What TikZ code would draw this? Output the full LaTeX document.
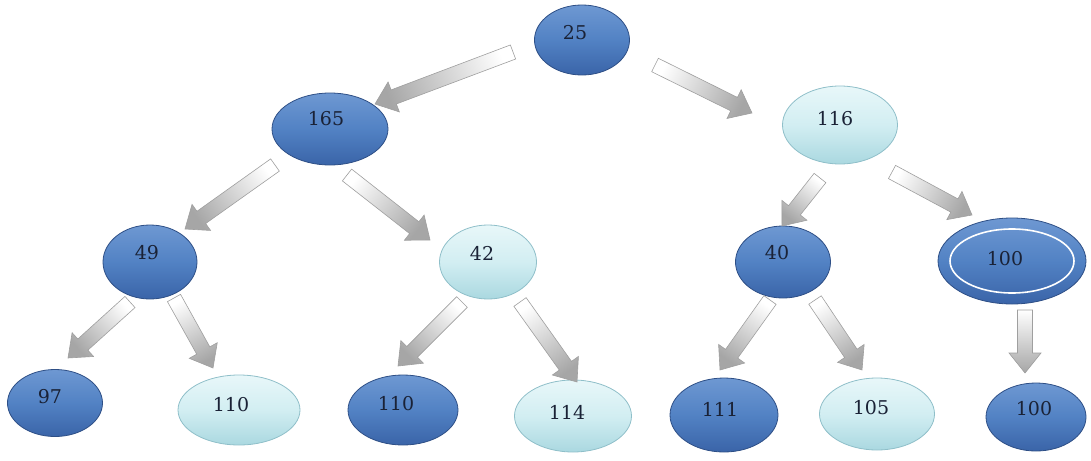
\documentclass[tikz,border=0pt]{standalone}
\usepackage{fontspec}
\setmainfont{DejaVu Serif}
\usetikzlibrary{shapes.geometric,calc}
\definecolor{dbtop}{HTML}{6E98D2}
\definecolor{dbmid}{HTML}{5282C4}
\definecolor{dbbot}{HTML}{3A64A8}
\definecolor{dbedge}{HTML}{2E4F86}
\definecolor{lbtop}{HTML}{E8F7F9}
\definecolor{lbmid}{HTML}{D2EEF2}
\definecolor{lbbot}{HTML}{AAD8E0}
\definecolor{lbedge}{HTML}{8FBFC9}
\definecolor{numcol}{HTML}{1A2236}
\tikzset{
  darknode/.style={ellipse, inner sep=0pt, draw=dbedge, line width=0.8pt,
    top color=dbtop, bottom color=dbbot, middle color=dbmid},
  lightnode/.style={ellipse, inner sep=0pt, draw=lbedge, line width=0.8pt,
    top color=lbtop, bottom color=lbbot, middle color=lbmid},
  numtext/.style={font=\fontsize{19}{19}\selectfont, text=numcol},
  arrowbody/.style={draw=gray!75, line width=0.6pt, top color=white, bottom color=gray!70},
}
\newcommand\blockarrow[2]{%
  \path let \p1=(#1), \p2=(#2), \n1={atan2(\y2-\y1,\x2-\x1)} in \pgfextra{\xdef\barang{\n1}};
  \coordinate (#1-#2-n) at ($(#2)!20pt!(#1)$);
  \draw[arrowbody, shading angle=\barang+90]
    ($(#1)!7.5pt!90:(#2)$) -- ($(#1-#2-n)!7.5pt!90:(#2)$) -- ($(#1-#2-n)!16pt!90:(#2)$)
    -- (#2) -- ($(#1-#2-n)!16pt!-90:(#2)$) -- ($(#1-#2-n)!7.5pt!-90:(#2)$)
    -- ($(#1)!7.5pt!-90:(#2)$) -- cycle;
}
\begin{document}
\begin{tikzpicture}[x=1pt,y=-1pt]
\useasboundingbox (0,0) rectangle (1091,460);
% nodes
\node[darknode, minimum width=95pt, minimum height=70pt] (n25) at (582,40) {};
\node[numtext] (t25) at (575,33) {25};
\node[darknode, minimum width=116pt, minimum height=72pt] (n165) at (330,129) {};
\node[numtext] (t165) at (326,119) {165};
\node[lightnode, minimum width=115pt, minimum height=78pt] (n116) at (840,125) {};
\node[numtext] (t116) at (835,119) {116};
\node[darknode, minimum width=94pt, minimum height=74pt] (n49) at (150,262) {};
\node[numtext] (t49) at (147,253) {49};
\node[lightnode, minimum width=97pt, minimum height=74pt] (n42) at (488,262) {};
\node[numtext] (t42) at (482,253) {42};
\node[darknode, minimum width=95pt, minimum height=72pt] (n40) at (783,262) {};
\node[numtext] (t40) at (777,253) {40};
\node[darknode, minimum width=148pt, minimum height=86pt] (n100a) at (1012,261) {};
\draw[white, line width=1.6pt] (n100a.center) ellipse [x radius=62pt, y radius=32pt];
\node[numtext] (t100a) at (1005,259) {100};
\node[darknode, minimum width=95pt, minimum height=67pt] (n97) at (55,403) {};
\node[numtext] (t97) at (50,397) {97};
\node[lightnode, minimum width=122pt, minimum height=70pt] (n110a) at (239,410) {};
\node[numtext] (t110a) at (231,405) {110};
\node[darknode, minimum width=110pt, minimum height=70pt] (n110b) at (403,410) {};
\node[numtext] (t110b) at (396,404) {110};
\node[lightnode, minimum width=117pt, minimum height=72pt] (n114) at (573,416) {};
\node[numtext] (t114) at (567,412) {114};
\node[darknode, minimum width=108pt, minimum height=74pt] (n111) at (724,415) {};
\node[numtext] (t111) at (720,409) {111};
\node[lightnode, minimum width=115pt, minimum height=72pt] (n105) at (877,414) {};
\node[numtext] (t105) at (871,408) {105};
\node[darknode, minimum width=100pt, minimum height=68pt] (n100b) at (1036,417) {};
\node[numtext] (t100b) at (1034,409) {100};
% arrow end points
\coordinate (a1t) at (513,52);  \coordinate (a1h) at (375,104);
\coordinate (a2t) at (655,65);  \coordinate (a2h) at (752,113);
\coordinate (a3t) at (275,165); \coordinate (a3h) at (185,229);
\coordinate (a4t) at (347,175); \coordinate (a4h) at (430,240);
\coordinate (a5t) at (820,178); \coordinate (a5h) at (782,226);
\coordinate (a6t) at (892,172); \coordinate (a6h) at (972,215);
\coordinate (a7t) at (130,302); \coordinate (a7h) at (68,358);
\coordinate (a8t) at (174,298); \coordinate (a8h) at (213,368);
\coordinate (a9t) at (462,302); \coordinate (a9h) at (398,366);
\coordinate (a10t) at (520,302); \coordinate (a10h) at (577,382);
\coordinate (a11t) at (770,300); \coordinate (a11h) at (720,370);
\coordinate (a12t) at (815,300); \coordinate (a12h) at (862,370);
\coordinate (a13t) at (1025,310); \coordinate (a13h) at (1025,373);
\blockarrow{a1t}{a1h}
\blockarrow{a2t}{a2h}
\blockarrow{a3t}{a3h}
\blockarrow{a4t}{a4h}
\blockarrow{a5t}{a5h}
\blockarrow{a6t}{a6h}
\blockarrow{a7t}{a7h}
\blockarrow{a8t}{a8h}
\blockarrow{a9t}{a9h}
\blockarrow{a10t}{a10h}
\blockarrow{a11t}{a11h}
\blockarrow{a12t}{a12h}
\blockarrow{a13t}{a13h}
\end{tikzpicture}
\end{document}
